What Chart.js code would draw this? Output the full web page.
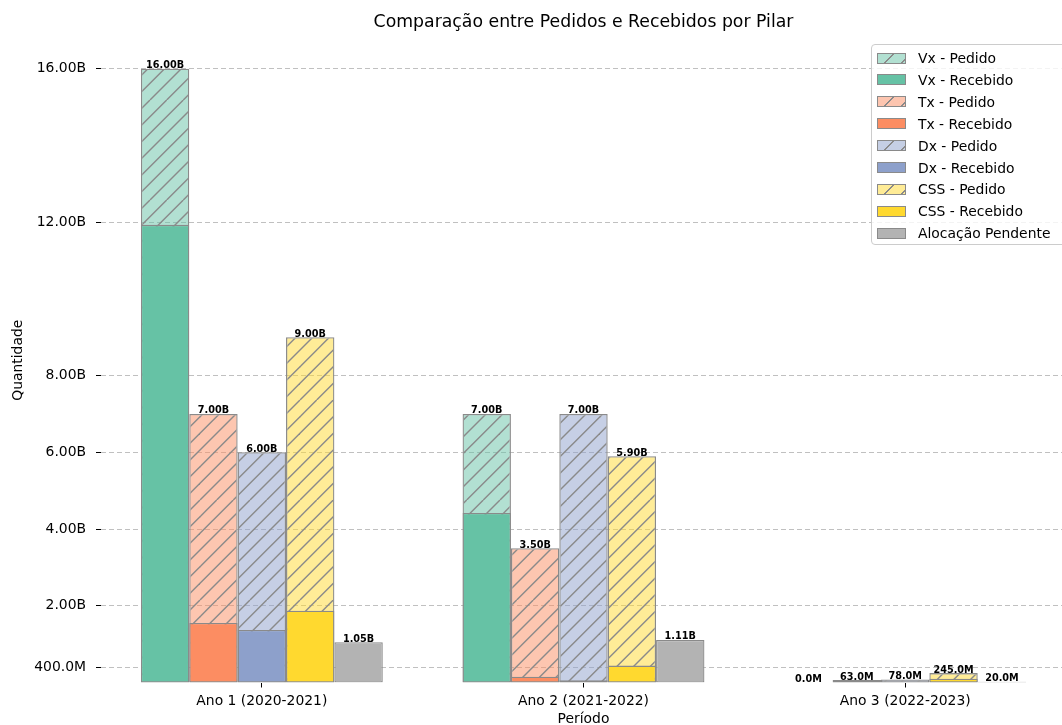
<!DOCTYPE html>
<html><head><meta charset="utf-8">
<script src="https://cdn.jsdelivr.net/npm/chart.js@4/dist/chart.umd.min.js"></script>
<style>
html,body{margin:0;padding:0;overflow:hidden;background:#fff;width:1062px;height:725px}
#wrap{position:relative;width:1066px;height:725px}
canvas{display:block}
#legend{position:absolute;left:871px;top:44px;width:197px;height:201px;border:1px solid #cccccc;border-radius:4px;background:rgba(255,255,255,0.8);font-family:'DejaVu Sans';font-size:13.9px;color:#000;box-sizing:border-box}
.item{position:absolute;left:5px;height:20px;display:flex;align-items:center;white-space:nowrap}
.sw{width:29px;height:11px;border:1.2px solid #8a8a8a;box-sizing:border-box;margin-right:12px;flex:none}
</style></head>
<body><div id="wrap"><canvas id="c" width="1066" height="725"></canvas><div id="legend"></div></div>
<script>
// ---- data ----
const categories = ['Ano 1 (2020-2021)', 'Ano 2 (2021-2022)', 'Ano 3 (2022-2023)'];
const pilares = ['Vx', 'Tx', 'Dx', 'CSS'];
const vxPedido    = [16.0e9, 7.0e9, 0];
const vxRecebido  = [11.93e9, 4.42e9, 0];
const txPedido    = [7.0e9, 3.5e9, 63e6];
const txRecebido  = [1.55e9, 0.15e9, 20e6];
const dxPedido    = [6.0e9, 7.0e9, 78e6];
const dxRecebido  = [1.37e9, 0.06e9, 10e6];
const cssPedido   = [9.0e9, 5.9e9, 245e6];
const cssRecebido = [1.87e9, 0.44e9, 100e6];
const alocacaoPendente = [1.05e9, 1.11e9, 20e6];
const yTickValues = [0.4e9, 2e9, 4e9, 6e9, 8e9, 12e9, 16e9];

// ---- styles ----
const pedidos = [vxPedido, txPedido, dxPedido, cssPedido];
const recebidos = [vxRecebido, txRecebido, dxRecebido, cssRecebido];
const pilarColors = ['#66c2a5', '#fc8d62', '#8da0cb', '#ffd92f'];
const alocColor = '#b3b3b3';
const edge = '#8a8a8a';
const FONT = "'DejaVu Sans'";

function rgba(hex, a) {
  const n = parseInt(hex.slice(1), 16);
  return `rgba(${n >> 16},${(n >> 8) & 255},${n & 255},${a})`;
}
function hatch(hex) {
  const c = document.createElement('canvas'); c.width = 100; c.height = 100;
  const g = c.getContext('2d');
  g.fillStyle = rgba(hex, 0.5); g.fillRect(0, 0, 100, 100);
  g.strokeStyle = edge; g.lineWidth = 1.4;
  for (let k = -6; k <= 6; k++) {
    const o = k * 100 / 6;
    g.beginPath(); g.moveTo(o, 100); g.lineTo(o + 100, 0); g.stroke();
  }
  return g.createPattern(c, 'repeat');
}
function fmt(v) {
  return v >= 1e9 ? (v / 1e9).toFixed(2) + 'B' : (v / 1e6).toFixed(1) + 'M';
}

const datasets = [];
pilares.forEach((p, i) => {
  datasets.push({ label: p + ' - Pedido', data: pedidos[i], stack: p, order: 1,
    backgroundColor: hatch(pilarColors[i]), borderColor: edge, borderWidth: 1.3,
    borderSkipped: false, showValue: true, swatch: { color: pilarColors[i], hatch: true } });
  datasets.push({ label: p + ' - Recebido', data: recebidos[i], stack: p, order: 0,
    backgroundColor: pilarColors[i], borderColor: edge, borderWidth: 1.3,
    borderSkipped: false, swatch: { color: pilarColors[i], hatch: false } });
});
datasets.push({ label: 'Alocação Pendente', data: alocacaoPendente, stack: 'Aloc', order: 0,
  backgroundColor: alocColor, borderColor: edge, borderWidth: 1.3, borderSkipped: false,
  showValue: true, swatch: { color: alocColor, hatch: false } });

const valueLabels = {
  id: 'valueLabels',
  afterDatasetsDraw(chart) {
    const ctx = chart.ctx;
    ctx.save();
    ctx.font = 'bold 9.7px ' + FONT;
    ctx.fillStyle = '#000';
    ctx.textAlign = 'center';
    ctx.textBaseline = 'alphabetic';
    chart.data.datasets.forEach((ds, di) => {
      if (!ds.showValue) return;
      chart.getDatasetMeta(di).data.forEach((el, j) => {
        ctx.fillText(fmt(ds.data[j]), el.x, el.y - 0.5);
      });
    });
    ctx.restore();
  }
};
const titlePlugin = {
  id: 'titlePlugin',
  afterDraw(chart) {
    const ctx = chart.ctx, a = chart.chartArea;
    ctx.save();
    ctx.font = '17.3px ' + FONT;
    ctx.fillStyle = '#000';
    ctx.textAlign = 'center';
    ctx.textBaseline = 'middle';
    ctx.fillText('Comparação entre Pedidos e Recebidos por Pilar', (a.left + a.right) / 2, 23);
    ctx.restore();
  }
};

Chart.defaults.font.family = FONT;
new Chart(document.getElementById('c'), {
  type: 'bar',
  data: { labels: categories, datasets },
  options: {
    responsive: false, animation: false, devicePixelRatio: 1,
    layout: { padding: { top: 38, left: 0, right: 0, bottom: 0 } },
    categoryPercentage: 0.752, barPercentage: 1,
    plugins: { legend: { display: false }, tooltip: { enabled: false }, title: { display: false } },
    scales: {
      x: {
        stacked: true, offset: true,
        afterFit(s) { s.height = 42.5; },
        grid: { display: true, offset: false, drawOnChartArea: false, drawTicks: true,
          tickLength: 5, tickColor: '#000', tickWidth: 1, tickBorderDash: [] },
        border: { display: false },
        ticks: { color: '#000', font: { size: 13.9 }, padding: 6, maxRotation: 0 },
        title: { display: true, text: 'Período', color: '#000', font: { size: 13.9 }, padding: { top: 0, bottom: -3 } }
      },
      y: {
        stacked: false, min: 0, max: 16.8e9,
        afterFit(s) { s.width = 101; },
        afterBuildTicks(s) { s.ticks = yTickValues.map(v => ({ value: v })); },
        grid: { color: '#c0c0c0', lineWidth: 1, drawTicks: true, tickLength: 5,
          tickColor: '#000', tickWidth: 1, tickBorderDash: [] },
        border: { display: false, dash: [5, 3] },
        ticks: { color: '#000', font: { size: 13.9 }, padding: 10, callback: v => fmt(v) },
        title: { display: true, text: 'Quantidade', color: '#000', font: { size: 13.9 }, padding: { top: 10, bottom: 0 } }
      }
    }
  },
  plugins: [valueLabels, titlePlugin]
});

// legend (HTML) built from the datasets
const leg = document.getElementById('legend');
datasets.forEach((ds, i) => {
  const it = document.createElement('div');
  it.className = 'item';
  it.style.top = (3 + i * 21.9) + 'px';
  const sw = document.createElement('span');
  sw.className = 'sw';
  if (ds.swatch.hatch) {
    sw.style.background = `repeating-linear-gradient(135deg, ${rgba(ds.swatch.color, 0.5)} 0 10.4px, ${edge} 10.4px 11.8px)`;
  } else {
    sw.style.background = ds.swatch.color;
  }
  const tx = document.createElement('span');
  tx.textContent = ds.label;
  it.appendChild(sw); it.appendChild(tx);
  leg.appendChild(it);
});
</script>
</body></html>
